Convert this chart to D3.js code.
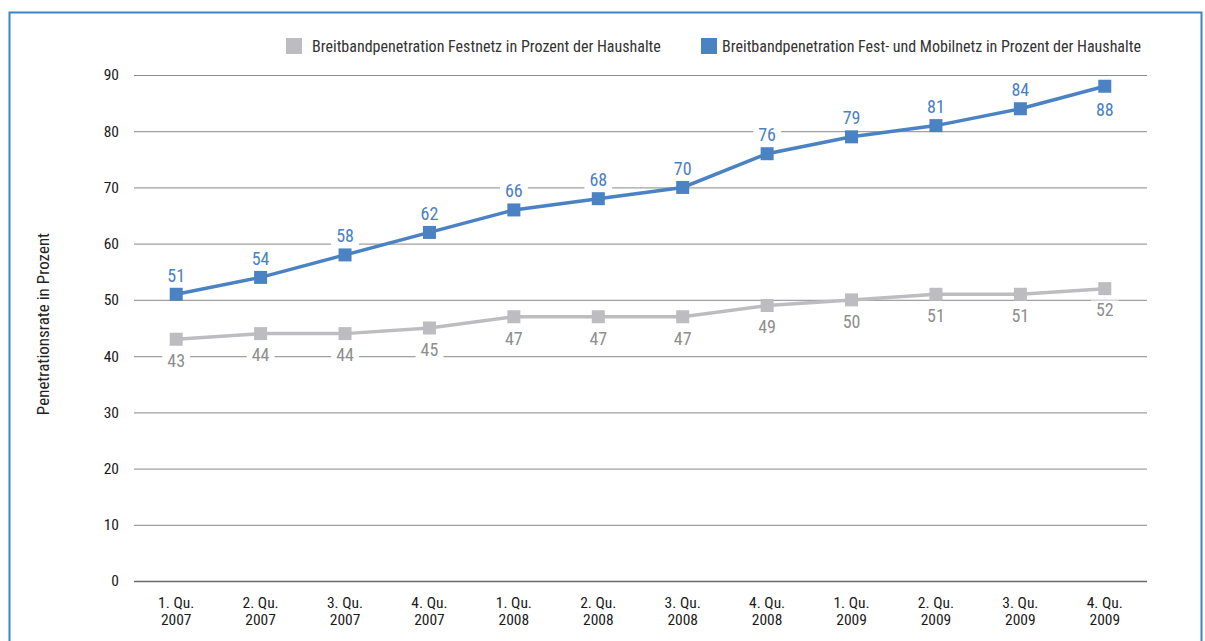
<!DOCTYPE html>
<html>
<head>
<meta charset="utf-8">
<script src="https://cdn.jsdelivr.net/npm/d3@7"></script>
<style>
  html, body { margin: 0; padding: 0; background: #fff; }
  svg { display: block; font-family: "Liberation Sans Narrow", "Roboto Condensed", "DejaVu Sans Condensed", "Arial Narrow", sans-serif; }
</style>
</head>
<body>
<svg id="chart" width="1205" height="641"></svg>
<script>
// Quarters on the x axis (two-line labels)
const quarters = ["1. Qu.|2007", "2. Qu.|2007", "3. Qu.|2007", "4. Qu.|2007",
                  "1. Qu.|2008", "2. Qu.|2008", "3. Qu.|2008", "4. Qu.|2008",
                  "1. Qu.|2009", "2. Qu.|2009", "3. Qu.|2009", "4. Qu.|2009"];
// Fixed-line broadband penetration, % of households
const festnetz = [43, 44, 44, 45, 47, 47, 47, 49, 50, 51, 51, 52];
// Fixed + mobile broadband penetration, % of households
const festMobil = [51, 54, 58, 62, 66, 68, 70, 76, 79, 81, 84, 88];
const yTicks = [0, 10, 20, 30, 40, 50, 60, 70, 80, 90];
const seriesNames = ["Breitbandpenetration Festnetz in Prozent der Haushalte",
                     "Breitbandpenetration Fest- und Mobilnetz in Prozent der Haushalte"];
const yTitle = "Penetrationsrate in Prozent";

(function draw() {
  const svg = d3.select("#chart");
  const plotLeft = 134, plotRight = 1147, plotTop = 75, plotBottom = 581;

  const grayLine = "#bdbdc1", grayText = "#8e8e8e";
  const blue = "#4a82c3", blueText = "#4a80c4";

  // outer frame
  svg.append("rect")
    .attr("x", 9.5).attr("y", 12.5).attr("width", 1192).attr("height", 660)
    .attr("fill", "none").attr("stroke", "#3d84c6").attr("stroke-width", 2);

  const x = d3.scalePoint().domain(quarters).range([plotLeft, plotRight]).padding(0.5);
  const y = d3.scaleLinear().domain([0, 90]).range([plotBottom, plotTop]);

  // gridlines + y tick labels via axis
  const yAxis = d3.axisLeft(y).tickValues(yTicks).tickSize(-(plotRight - plotLeft)).tickPadding(15);
  const gy = svg.append("g").attr("transform", `translate(${plotLeft},0)`).call(yAxis);
  gy.attr("font-family", null).attr("font-size", null);
  gy.select(".domain").remove();
  gy.selectAll(".tick line")
    .attr("stroke", d => d === 0 ? "#6a6a6a" : (d === 90 ? "#8a8a8a" : "#a0a0a0"))
    .attr("stroke-width", d => d === 0 ? 1.6 : 1.2);
  gy.selectAll(".tick text").attr("fill", "#1a1a1a").style("font-size", "15.5px").attr("dy", "0.32em");

  // y axis title
  svg.append("text")
    .attr("transform", `translate(49,324) rotate(-90)`)
    .attr("text-anchor", "middle").attr("fill", "#222").style("font-size", "17px")
    .text(yTitle);

  // x labels
  const xl = svg.append("g");
  quarters.forEach(q => {
    const [a, b] = q.split("|");
    const t = xl.append("text").attr("text-anchor", "middle").attr("fill", "#1a1a1a").style("font-size", "15.5px");
    t.append("tspan").attr("x", x(q)).attr("y", 608).text(a);
    t.append("tspan").attr("x", x(q)).attr("y", 625).text(b);
  });

  // value labels with white knockout background
  function valueLabel(g, cx, cy, txt, color) {
    const t = g.append("text").attr("x", cx).attr("y", cy).attr("text-anchor", "middle")
      .attr("dy", "0.35em").attr("fill", color).style("font-size", "18px").text(txt);
    const bb = t.node().getBBox();
    g.insert("rect", () => t.node())
      .attr("x", bb.x - 5).attr("y", bb.y + 1).attr("width", bb.width + 10).attr("height", bb.height - 2)
      .attr("fill", "#fff");
  }

  const labels = svg.append("g");
  festnetz.forEach((v, i) => valueLabel(labels, x(quarters[i]), y(v) + 21.5, v, grayText));
  festMobil.forEach((v, i) => {
    const last = i === festMobil.length - 1;
    valueLabel(labels, x(quarters[i]), y(v) + (last ? 23 : -19), v, blueText);
  });

  const line = d3.line().x((d, i) => x(quarters[i])).y(d => y(d));
  const ms = 13;

  function drawSeries(data, color) {
    svg.append("path").datum(data).attr("d", line)
      .attr("fill", "none").attr("stroke", color).attr("stroke-width", 3.5);
    svg.append("g").selectAll("rect").data(data).join("rect")
      .attr("x", (d, i) => x(quarters[i]) - ms / 2).attr("y", d => y(d) - ms / 2)
      .attr("width", ms).attr("height", ms).attr("fill", color);
  }
  drawSeries(festnetz, grayLine);
  drawSeries(festMobil, blue);

  // legend
  const legend = [[286, 312, seriesNames[0], grayLine], [701, 722, seriesNames[1], blue]];
  legend.forEach(([sx, tx, name, c]) => {
    svg.append("rect").attr("x", sx).attr("y", 38).attr("width", 16).attr("height", 16).attr("fill", c);
    svg.append("text").attr("x", tx).attr("y", 52).attr("fill", "#333").style("font-size", "16px").text(name);
  });
})();
</script>
</body>
</html>
